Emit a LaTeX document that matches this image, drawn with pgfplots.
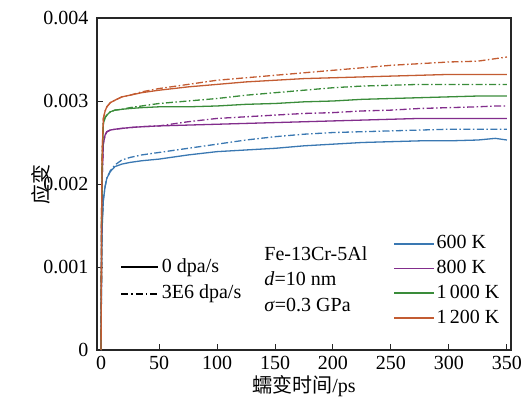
\documentclass[border=0pt]{standalone}
\usepackage{pgfplots}
\pgfplotsset{compat=1.18}
\usepackage{pgfplotstable}
\usepackage{fontspec}
\setmainfont{Liberation Serif}
\newfontfamily\cjk{Noto Sans CJK SC}
\definecolor{cB}{RGB}{58,120,178}
\definecolor{cP}{RGB}{130,45,140}
\definecolor{cG}{RGB}{58,140,58}
\definecolor{cO}{RGB}{195,92,50}
\pgfplotstableread{
t    b0      b1      p0      p1      g0      g1      o0      o1
0    0       0       0       0       0       0       0       0
0.5  0.0011  0.0011  0.0015  0.0015  0.0016  0.0016  0.0017  0.0017
1    0.0015  0.0015  0.0021  0.0021  0.0023  0.0023  0.0024  0.0024
2    0.00181 0.00181 0.00249 0.00249 0.00273 0.00273 0.00279 0.00279
3.5  0.00197 0.00197 0.00259 0.00259 0.00280 0.00280 0.00288 0.00288
5    0.00207 0.00207 0.00263 0.00263 0.00283 0.00283 0.00293 0.00293
8    0.00215 0.00216 0.00265 0.00265 0.00287 0.00287 0.00298 0.00298
12   0.00221 0.00223 0.00266 0.00266 0.00289 0.00289 0.00301 0.00301
18   0.00224 0.00229 0.00267 0.00267 0.00290 0.00290 0.00305 0.00305
25   0.00226 0.00232 0.00268 0.00268 0.00291 0.00292 0.00307 0.00307
35   0.00228 0.00235 0.00269 0.00269 0.00292 0.00294 0.00310 0.00311
50   0.00230 0.00238 0.00270 0.00270 0.00293 0.00297 0.00313 0.00315
75   0.00235 0.00243 0.00271 0.00275 0.00293 0.00300 0.00317 0.00320
100  0.00239 0.00248 0.00272 0.00279 0.00294 0.00303 0.00320 0.00325
125  0.00241 0.00253 0.00273 0.00281 0.00296 0.00307 0.00323 0.00328
150  0.00243 0.00257 0.00274 0.00283 0.00297 0.00310 0.00325 0.00331
175  0.00246 0.00260 0.00275 0.00285 0.00299 0.00313 0.00327 0.00334
200  0.00248 0.00262 0.00276 0.00286 0.00300 0.00316 0.00328 0.00337
225  0.00250 0.00263 0.00277 0.00288 0.00302 0.00318 0.00329 0.00340
250  0.00251 0.00264 0.00278 0.00289 0.00303 0.00319 0.00330 0.00343
275  0.00252 0.00265 0.00279 0.00291 0.00304 0.00320 0.00331 0.00345
300  0.00252 0.00266 0.00279 0.00292 0.00305 0.00320 0.00332 0.00347
325  0.00253 0.00266 0.00279 0.00293 0.00306 0.00320 0.00332 0.00348
340  0.00255 0.00266 0.00279 0.00294 0.00306 0.00320 0.00332 0.00351
350  0.00253 0.00266 0.00279 0.00294 0.00306 0.00320 0.00332 0.00353
}\data
\begin{document}
\begin{tikzpicture}
\pgfplotsset{
  base/.style={
    at={(0,0)}, anchor=south west,
    scale only axis, width=414bp, height=332bp,
    xmin=-3.5, xmax=353.5, ymin=0, ymax=0.004,
  },
  dd/.style={dash pattern=on 7bp off 2.5bp on 1.5bp off 2.5bp},
}
\begin{axis}[base,
  font=\fontsize{20bp}{24bp}\selectfont,
  axis line style={line width=1.1bp, black!85},
  tick style={line width=1bp, black!85},
  tick align=inside, major tick length=6bp,
  xtick pos=bottom, ytick pos=left,
  xtick={0,50,...,350},
  ytick={0,0.001,0.002,0.003,0.004},
  yticklabels={0,0.001,0.002,0.003,0.004},
  scaled y ticks=false,
  /pgf/number format/assume math mode=true,
  yticklabel style={xshift=-5bp},
  xticklabel style={yshift=-3bp},
  xlabel={\cjk 蠕变时间\rmfamily/ps},
  ylabel={\cjk 应变},
  xlabel style={at={(axis description cs:0.5,-0.108)}, anchor=center},
  ylabel style={at={(axis description cs:-0.135,0.5)}, anchor=center},
  legend cell align=left,
  legend image code/.code={\draw[#1, line width=1.8bp] (0bp,0bp) -- (40bp,0bp);},
  legend style={at={(axis description cs:0.715,0.358)}, anchor=north west,
    draw=none, fill=none, inner sep=0pt, row sep=0pt,
    font=\fontsize{20bp}{24bp}\selectfont,
    nodes={text height=14bp, text depth=4bp, inner sep=3.4bp, inner xsep=1.5bp}},
  every axis plot/.append style={line width=1.3bp},
]
\addlegendimage{cB}\addlegendentry{600 K}
\addlegendimage{cP}\addlegendentry{800 K}
\addlegendimage{cG}\addlegendentry{1\,000 K}
\addlegendimage{cO}\addlegendentry{1\,200 K}
\addplot[cB, dd, forget plot] table[x=t, y=b1] {\data};
\addplot[cP, dd, forget plot] table[x=t, y=p1] {\data};
\addplot[cG, dd, forget plot] table[x=t, y=g1] {\data};
\addplot[cO, dd, forget plot] table[x=t, y=o1] {\data};
\addplot[cB, forget plot] table[x=t, y=b0] {\data};
\addplot[cP, forget plot] table[x=t, y=p0] {\data};
\addplot[cG, forget plot] table[x=t, y=g0] {\data};
\addplot[cO, forget plot] table[x=t, y=o0] {\data};
\node[anchor=north west, align=left, inner sep=0pt,
  font=\fontsize{20bp}{25.5bp}\selectfont]
  at (axis description cs:0.404,0.312)
  {Fe-13Cr-5Al\\\textit{d}=10 nm\\\textit{σ}=0.3 GPa};
\end{axis}
\begin{axis}[base, hide axis,
  legend cell align=left,
  legend image code/.code={\draw[#1, line width=2bp] (0bp,0bp) -- (37bp,0bp);},
  legend style={at={(axis description cs:0.056,0.29)}, anchor=north west,
    draw=none, fill=none, inner sep=0pt, row sep=0pt,
    font=\fontsize{20bp}{24bp}\selectfont,
    nodes={text height=14bp, text depth=4bp, inner sep=4.3bp, inner xsep=2.5bp}},
]
\addlegendimage{black}\addlegendentry{0 dpa/s}
\addlegendimage{black, dash pattern=on 7bp off 3bp on 1.5bp off 3bp}\addlegendentry{3E6 dpa/s}
\end{axis}
\pgfresetboundingbox
\useasboundingbox (-97bp,-58bp) rectangle (427bp,350bp);
\end{tikzpicture}
\end{document}
